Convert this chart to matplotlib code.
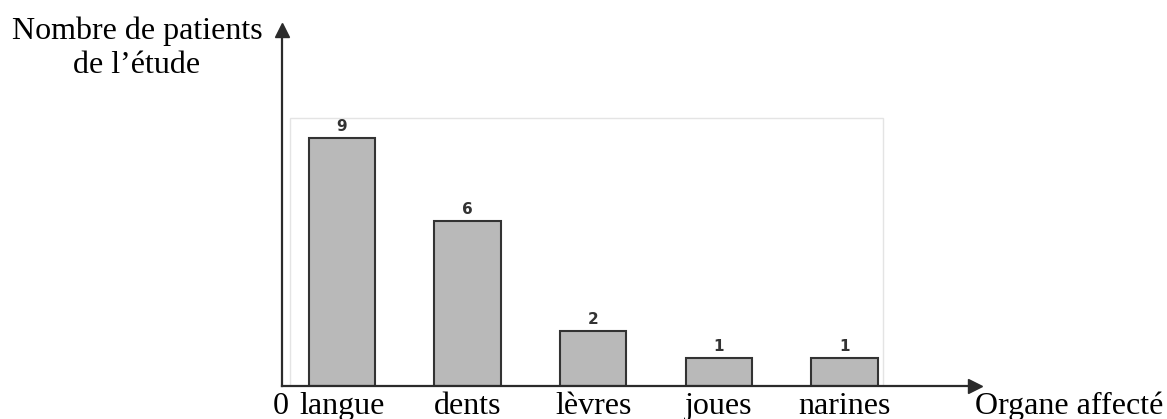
import numpy as np
import matplotlib.pyplot as plt
from matplotlib.patches import Rectangle


organes = ["langue", "dents", "lèvres", "joues", "narines"]
patients = [9, 6, 2, 1, 1]

AXE_COULEUR = "#2b2b2b"
SERIF = ["Liberation Serif", "DejaVu Serif"]
TAILLE = 23


def axes_fleches(ax):
    ax.spines["top"].set_color("none")
    ax.spines["right"].set_color("none")
    for s in ("left", "bottom"):
        ax.spines[s].set_linewidth(1.6)
        ax.spines[s].set_color(AXE_COULEUR)
    ax.plot(1, 0, ">", color=AXE_COULEUR, ms=10,
            transform=ax.transAxes, clip_on=False)
    ax.plot(0, 1, "^", color=AXE_COULEUR, ms=10,
            transform=ax.transAxes, clip_on=False)


fig = plt.figure(figsize=(11.67, 4.19), dpi=100)
ax = fig.add_axes([282 / 1167, 33 / 419, 693 / 1167, 356 / 419])

x = np.arange(len(organes))

# cadre pale du graphique d'origine
ax.add_patch(Rectangle((0.0115, 0), 0.856, 0.753, transform=ax.transAxes,
                       fill=False, edgecolor="#e4e4e4", lw=1.0, zorder=0))

bars = ax.bar(x, patients, width=0.53, color="#b9b9b9",
              edgecolor="#333333", linewidth=1.5, zorder=2)
ax.bar_label(bars, padding=3, fontsize=11, fontweight="bold", color="#333333")

ax.set_xlim(-0.478, 5.04)
ax.set_ylim(0, 12.92)
ax.set_yticks([])
ax.set_xticks(x, organes, family=SERIF, fontsize=TAILLE)
ax.tick_params(axis="x", length=0, pad=4)

axes_fleches(ax)

ax.annotate("0", xy=(0, 0), xycoords="axes fraction", xytext=(-1, -4),
            textcoords="offset points", ha="center", va="top",
            family=SERIF, fontsize=TAILLE)
ax.annotate("Organe affecté", xy=(1, 0), xycoords="axes fraction",
            xytext=(0, -4), textcoords="offset points", ha="left", va="top",
            family=SERIF, fontsize=TAILLE)
fig.text(137 / 1167, 1 - 17 / 419, "Nombre de patients\nde l’étude",
         ha="center", va="top", family=SERIF, fontsize=TAILLE, linespacing=1.22)

fig.savefig("out.png", dpi=100)
